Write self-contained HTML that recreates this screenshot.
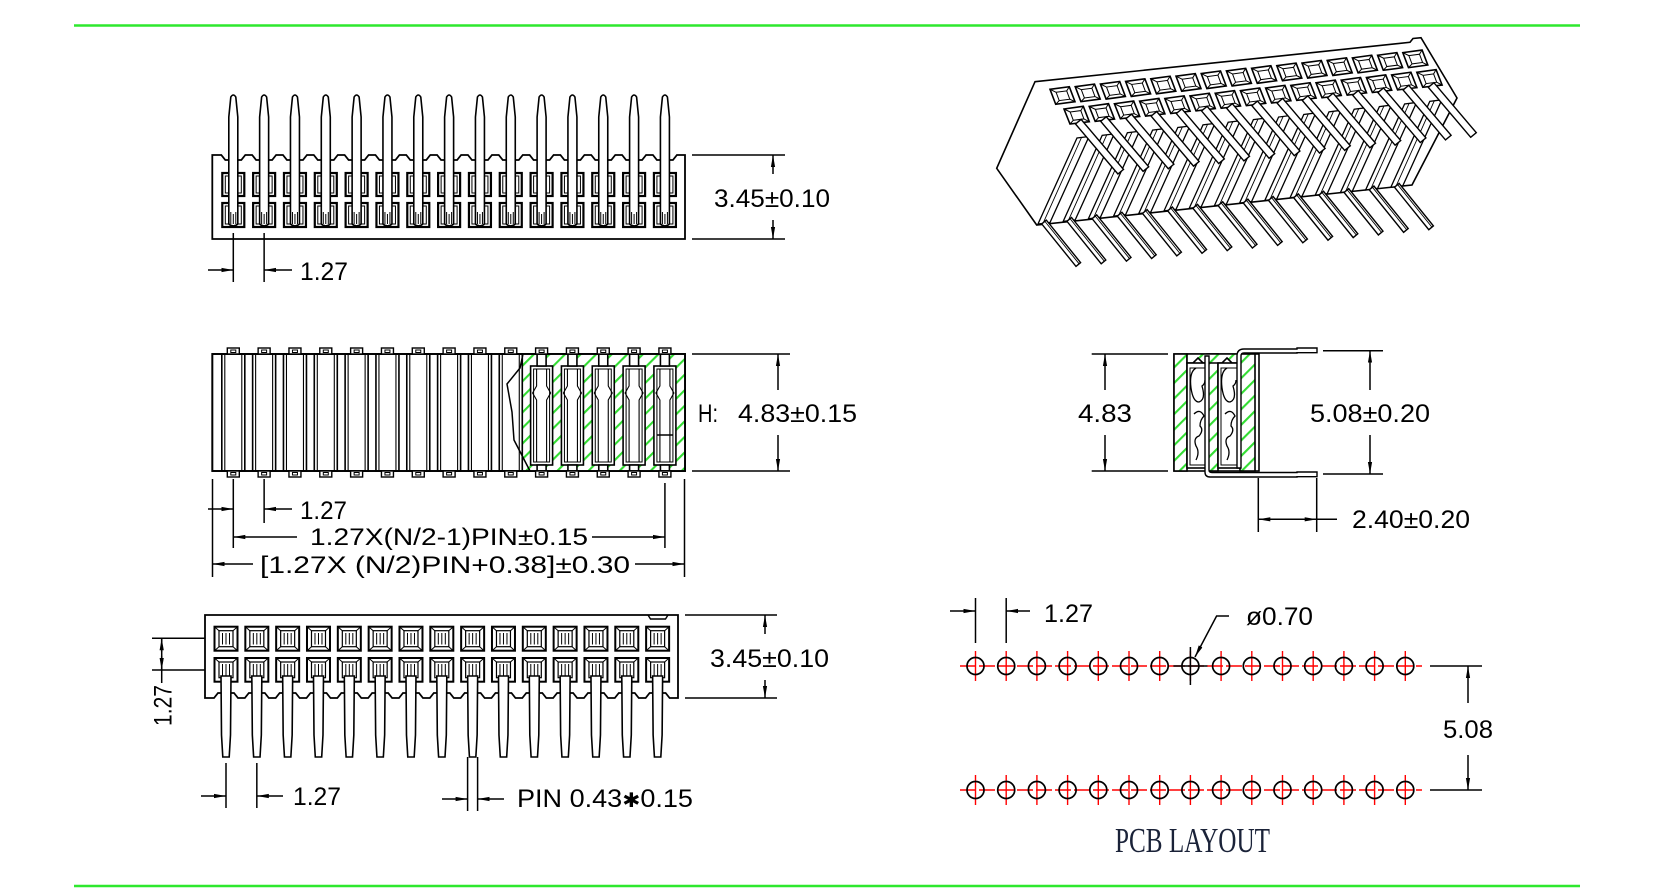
<!DOCTYPE html>
<html><head><meta charset="utf-8"><style>
html,body{margin:0;padding:0;background:#fff;}
svg{display:block;}
text{font-family:"Liberation Sans",Arial,sans-serif;font-size:25px;fill:#000;stroke:none;}
.serif{font-family:"Liberation Serif","Times New Roman",serif;fill:#1a2238;}
</style></head><body>
<svg width="1653" height="894" viewBox="0 0 1653 894" xmlns="http://www.w3.org/2000/svg">
<defs>
<marker id="a" viewBox="0 0 12 6" refX="12" refY="3" markerWidth="12" markerHeight="6" markerUnits="userSpaceOnUse" orient="auto"><path d="M0 0.9L12 3L0 5.1z" fill="#000"/></marker>
<pattern id="h" patternUnits="userSpaceOnUse" width="11" height="11" patternTransform="rotate(45)"><rect width="11" height="11" fill="#fff"/><line x1="1" y1="0" x2="1" y2="11" stroke="#33dd33" stroke-width="2.2"/></pattern>
<g id="tw" stroke="#000" fill="#fff">
<rect x="-11" y="173" width="22" height="23" stroke-width="2.2"/>
<rect x="-8" y="176" width="16" height="17" fill="none" stroke-width="1"/>
<rect x="-11" y="203" width="22" height="24" stroke-width="2.2"/>
<rect x="-8" y="206" width="16" height="18" fill="none" stroke-width="1"/>
</g>
<g id="tp" stroke="#000" fill="#fff" stroke-width="1.6">
<path d="M-2.5 97Q0 93 2.5 97L4.5 117V224Q0 228-4.5 224V117Z"/>
<path d="M-2.5 212V224M2.5 212V224M0 214V224" stroke-width="1"/>
</g>
<g id="mc" stroke="#000" fill="none"><rect x="-11.5" y="354" width="23" height="117" stroke-width="1.6"/><path d="M-8.5 354V471M8.5 354V471" stroke-width="1.1"/></g>
<g id="ms" stroke="#000" fill="#fff" stroke-width="1.4"><rect x="-6" y="348" width="12" height="6"/><rect x="-2.5" y="350" width="5" height="2.5" fill="none" stroke-width="1"/><rect x="-6" y="471" width="12" height="6"/><rect x="-2.5" y="472.5" width="5" height="2.5" fill="none" stroke-width="1"/></g>
<g id="hs" stroke="#000" stroke-width="1.6">
<rect x="-11" y="366" width="22" height="99" fill="#fff"/>
<rect x="-8" y="369" width="16" height="93" fill="none" stroke-width="1"/>
<rect x="-4.5" y="354" width="9" height="12" fill="#fff"/>
<rect x="-4.5" y="465" width="9" height="6" fill="#fff"/>
<path d="M-5 369V386l-4 7 4 7V462M5 369V386l4 7-4 7V462" fill="none" stroke-width="1.1"/>
</g>
<g id="bw" stroke="#000" fill="#fff">
<rect x="-11.5" y="626.7" width="23" height="24" stroke-width="2"/>
<rect x="-7" y="630.7" width="14" height="16" fill="none" stroke-width="1.2"/>
<path d="M-11.5 626.7L-7 630.7M11.5 626.7L7 630.7M-11.5 650.7L-7 646.7M11.5 650.7L7 646.7M-3.5 633V644.5M0 633V644.5M3.5 633V644.5" stroke-width="1"/>
<rect x="-11.5" y="658" width="23" height="23.7" stroke-width="2"/>
<rect x="-7" y="662" width="14" height="15.7" fill="none" stroke-width="1.2"/>
<path d="M-11.5 658L-7 662M11.5 658L7 662M-3.5 664V676M0 664V676M3.5 664V676" stroke-width="1"/>
</g>
<path id="bp" d="M-5 676H5L4.5 735L3.2 757H-3.2L-4.5 735Z" stroke="#000" fill="#fff" stroke-width="1.6"/>
<g id="pr" stroke="#000" fill="#fff" stroke-width="1.3"><polygon points="1038,224 1050,222.5 1089,136.5 1077,138"/><line x1="1043" y1="223.4" x2="1081.5" y2="137.5" stroke-width="0.9"/></g>
<g id="pl" stroke="#000" fill="#fff" stroke-width="1.4"><polygon points="1041.7,223.9 1046.3,220.1 1080.6,262.6 1076,266.4"/><line x1="1044.6" y1="221" x2="1079" y2="263.7" stroke-width="0.9"/></g>
<g id="pw" stroke="#000" fill="#fff">
<polygon points="1050,89.3 1069.3,86.7 1075,101.7 1055.7,104.3" stroke-width="1.6"/>
<polygon points="1056.1,92.3 1066.7,90.9 1069.8,99.2 1059.2,100.6" stroke-width="1"/>
<path d="M1050 89.3L1056.1 92.3M1069.3 86.7L1066.7 90.9M1075 101.7L1069.8 99.2M1055.7 104.3L1059.2 100.6" stroke-width="1"/>
<polygon points="1064,109 1083.3,106.3 1089.3,121.7 1070,124" stroke-width="1.6"/>
<polygon points="1070.2,112 1080.8,110.6 1083.9,118.9 1073.3,120.3" stroke-width="1"/>
<path d="M1064 109L1070.2 112M1083.3 106.3L1080.8 110.6M1089.3 121.7L1083.9 118.9M1070 124L1073.3 120.3" stroke-width="1"/>
</g>
<polygon id="pu" points="1075.5,124 1081.1,119.4 1123.5,169.4 1117.9,174" stroke="#000" fill="#fff" stroke-width="1.4"/>
<g id="pc"><line x1="0" y1="-15" x2="0" y2="15" stroke="#ff0000" stroke-width="1.4"/><circle cx="0" cy="0" r="8.5" fill="none" stroke="#000" stroke-width="1.7"/></g>
</defs>

<rect width="1653" height="894" fill="#fff"/>
<line x1="74" y1="25.5" x2="1580" y2="25.5" stroke="#2ee82e" stroke-width="2.5"/>
<line x1="74" y1="886" x2="1580" y2="886" stroke="#2ee82e" stroke-width="2.5"/>

<!-- TOP VIEW -->
<path d="M212.3 239V155H221.3l4 5h16l4-5h6.83l4 5h16l4-5h6.83l4 5h16l4-5h6.83l4 5h16l4-5h6.83l4 5h16l4-5h6.83l4 5h16l4-5h6.83l4 5h16l4-5h6.83l4 5h16l4-5h6.83l4 5h16l4-5h6.83l4 5h16l4-5h6.83l4 5h16l4-5h6.83l4 5h16l4-5h6.83l4 5h16l4-5h6.83l4 5h16l4-5h6.83l4 5h16l4-5h6.83H685V239Z" fill="#fff" stroke="#000" stroke-width="1.8"/>
<g>
<use href="#tw" x="233.3"/><use href="#tw" x="264.13"/><use href="#tw" x="294.96"/><use href="#tw" x="325.79"/><use href="#tw" x="356.62"/><use href="#tw" x="387.45"/><use href="#tw" x="418.28"/><use href="#tw" x="449.11"/><use href="#tw" x="479.94"/><use href="#tw" x="510.77"/><use href="#tw" x="541.6"/><use href="#tw" x="572.43"/><use href="#tw" x="603.26"/><use href="#tw" x="634.09"/><use href="#tw" x="664.92"/>
<use href="#tp" x="233.3"/><use href="#tp" x="264.13"/><use href="#tp" x="294.96"/><use href="#tp" x="325.79"/><use href="#tp" x="356.62"/><use href="#tp" x="387.45"/><use href="#tp" x="418.28"/><use href="#tp" x="449.11"/><use href="#tp" x="479.94"/><use href="#tp" x="510.77"/><use href="#tp" x="541.6"/><use href="#tp" x="572.43"/><use href="#tp" x="603.26"/><use href="#tp" x="634.09"/><use href="#tp" x="664.92"/>
</g>
<g stroke="#000" stroke-width="1.5" fill="none">
<line x1="233.3" y1="233" x2="233.3" y2="282"/><line x1="264.13" y1="233" x2="264.13" y2="282"/>
<line x1="208" y1="270" x2="233.3" y2="270" marker-end="url(#a)"/>
<line x1="292" y1="270" x2="264.13" y2="270" marker-end="url(#a)"/>
<line x1="692" y1="155" x2="785" y2="155"/><line x1="692" y1="239" x2="785" y2="239"/>
<line x1="773" y1="174" x2="773" y2="155" marker-end="url(#a)"/>
<line x1="773" y1="220" x2="773" y2="239" marker-end="url(#a)"/>
</g>
<text x="300" y="280" textLength="48" lengthAdjust="spacingAndGlyphs">1.27</text>
<text x="714" y="207" textLength="116" lengthAdjust="spacingAndGlyphs">3.45±0.10</text>

<!-- MIDDLE VIEW -->
<rect x="212.3" y="354" width="472.7" height="117" fill="#fff" stroke="#000" stroke-width="1.8"/>
<use href="#mc" x="233.3"/><use href="#mc" x="264.13"/><use href="#mc" x="294.96"/><use href="#mc" x="325.79"/><use href="#mc" x="356.62"/><use href="#mc" x="387.45"/><use href="#mc" x="418.28"/><use href="#mc" x="449.11"/><use href="#mc" x="479.94"/><use href="#mc" x="510.77"/>
<rect x="522.3" y="354" width="162.7" height="117" fill="url(#h)" stroke="#000" stroke-width="1.6"/>
<use href="#hs" x="541.6"/><use href="#hs" x="572.43"/><use href="#hs" x="603.26"/><use href="#hs" x="634.09"/><use href="#hs" x="664.92"/>
<line x1="656.9" y1="435" x2="672.9" y2="435" stroke="#000" stroke-width="1.4"/>
<path d="M523 354L520 368L507 384L512 412L514 440L530 471" fill="none" stroke="#000" stroke-width="1.5"/>
<rect x="212.3" y="354" width="472.7" height="117" fill="none" stroke="#000" stroke-width="1.8"/>
<use href="#ms" x="233.3"/><use href="#ms" x="264.13"/><use href="#ms" x="294.96"/><use href="#ms" x="325.79"/><use href="#ms" x="356.62"/><use href="#ms" x="387.45"/><use href="#ms" x="418.28"/><use href="#ms" x="449.11"/><use href="#ms" x="479.94"/><use href="#ms" x="510.77"/><use href="#ms" x="541.6"/><use href="#ms" x="572.43"/><use href="#ms" x="603.26"/><use href="#ms" x="634.09"/><use href="#ms" x="664.92"/>
<g stroke="#000" stroke-width="1.5" fill="none">
<line x1="692" y1="354" x2="790" y2="354"/><line x1="692" y1="471" x2="790" y2="471"/>
<line x1="778" y1="390" x2="778" y2="354" marker-end="url(#a)"/>
<line x1="778" y1="435" x2="778" y2="471" marker-end="url(#a)"/>
<line x1="212.5" y1="479" x2="212.5" y2="577"/>
<line x1="233.3" y1="479" x2="233.3" y2="548"/>
<line x1="264.13" y1="479" x2="264.13" y2="523"/>
<line x1="664.92" y1="483" x2="664.92" y2="548"/>
<line x1="684.5" y1="479" x2="684.5" y2="577"/>
<line x1="208" y1="509" x2="233.3" y2="509" marker-end="url(#a)"/>
<line x1="292" y1="509" x2="264.13" y2="509" marker-end="url(#a)"/>
<line x1="297" y1="537" x2="233.3" y2="537" marker-end="url(#a)"/>
<line x1="592" y1="537" x2="664.92" y2="537" marker-end="url(#a)"/>
<line x1="253" y1="564" x2="212.5" y2="564" marker-end="url(#a)"/>
<line x1="635" y1="564" x2="684.5" y2="564" marker-end="url(#a)"/>
</g>
<text x="698" y="422" textLength="20" lengthAdjust="spacingAndGlyphs">H:</text>
<text x="738" y="422" textLength="119" lengthAdjust="spacingAndGlyphs">4.83±0.15</text>
<text x="300" y="519" textLength="47" lengthAdjust="spacingAndGlyphs">1.27</text>
<text x="310" y="545" style="font-size:24px" textLength="278" lengthAdjust="spacingAndGlyphs">1.27X(N/2-1)PIN±0.15</text>
<text x="260" y="573" style="font-size:24px" textLength="370" lengthAdjust="spacingAndGlyphs">[1.27X  (N/2)PIN+0.38]±0.30</text>

<!-- BOTTOM VIEW -->
<path d="M205 615V698H214l4-5h16l4 5h6.83l4-5h16l4 5h6.83l4-5h16l4 5h6.83l4-5h16l4 5h6.83l4-5h16l4 5h6.83l4-5h16l4 5h6.83l4-5h16l4 5h6.83l4-5h16l4 5h6.83l4-5h16l4 5h6.83l4-5h16l4 5h6.83l4-5h16l4 5h6.83l4-5h16l4 5h6.83l4-5h16l4 5h6.83l4-5h16l4 5h6.83l4-5h16l4 5H678V615Z" fill="#fff" stroke="#000" stroke-width="1.8"/>
<path d="M648 615L650.5 619H665.5L668 615" fill="none" stroke="#000" stroke-width="1.4"/>
<use href="#bw" x="226"/><use href="#bw" x="256.83"/><use href="#bw" x="287.66"/><use href="#bw" x="318.49"/><use href="#bw" x="349.32"/><use href="#bw" x="380.15"/><use href="#bw" x="410.98"/><use href="#bw" x="441.81"/><use href="#bw" x="472.64"/><use href="#bw" x="503.47"/><use href="#bw" x="534.3"/><use href="#bw" x="565.13"/><use href="#bw" x="595.96"/><use href="#bw" x="626.79"/><use href="#bw" x="657.62"/>
<use href="#bp" x="226"/><use href="#bp" x="256.83"/><use href="#bp" x="287.66"/><use href="#bp" x="318.49"/><use href="#bp" x="349.32"/><use href="#bp" x="380.15"/><use href="#bp" x="410.98"/><use href="#bp" x="441.81"/><use href="#bp" x="472.64"/><use href="#bp" x="503.47"/><use href="#bp" x="534.3"/><use href="#bp" x="565.13"/><use href="#bp" x="595.96"/><use href="#bp" x="626.79"/><use href="#bp" x="657.62"/>
<g stroke="#000" stroke-width="1.5" fill="none">
<line x1="685" y1="615" x2="777" y2="615"/><line x1="685" y1="698" x2="777" y2="698"/>
<line x1="765" y1="634" x2="765" y2="615" marker-end="url(#a)"/>
<line x1="765" y1="680" x2="765" y2="698" marker-end="url(#a)"/>
<line x1="152" y1="638.3" x2="205" y2="638.3"/><line x1="152" y1="670" x2="205" y2="670"/>
<line x1="161.7" y1="638.3" x2="161.7" y2="683"/>
<line x1="161.7" y1="652" x2="161.7" y2="638.3" marker-end="url(#a)"/>
<line x1="161.7" y1="656" x2="161.7" y2="670" marker-end="url(#a)"/>
<line x1="226" y1="763" x2="226" y2="808"/><line x1="256.83" y1="763" x2="256.83" y2="808"/>
<line x1="201" y1="796" x2="226" y2="796" marker-end="url(#a)"/>
<line x1="283" y1="796" x2="256.83" y2="796" marker-end="url(#a)"/>
<line x1="467.6" y1="757" x2="467.6" y2="811"/><line x1="477.6" y1="757" x2="477.6" y2="811"/>
<line x1="442" y1="799" x2="467.6" y2="799" marker-end="url(#a)"/>
<line x1="504" y1="799" x2="477.6" y2="799" marker-end="url(#a)"/>
</g>
<text x="710" y="667" textLength="119" lengthAdjust="spacingAndGlyphs">3.45±0.10</text>
<text transform="translate(171.7,726) rotate(-90)" x="0" y="0" textLength="41" lengthAdjust="spacingAndGlyphs">1.27</text>
<text x="293" y="805" textLength="48" lengthAdjust="spacingAndGlyphs">1.27</text>
<text x="517" y="807" textLength="176" lengthAdjust="spacingAndGlyphs">PIN  0.43<tspan style="font-family:'DejaVu Sans',sans-serif;font-size:20px">✱</tspan>0.15</text>

<!-- PERSPECTIVE -->
<polygon points="1035,81.7 1410,42.3 1413,38.5 1421,37.7 1457,98 1412,185 1036.7,225 996.7,168.3" fill="#fff" stroke="#000" stroke-width="1.6"/>
<g>
<use href="#pr" transform="translate(352.8,-36.68)"/><use href="#pr" transform="translate(327.6,-34.06)"/><use href="#pr" transform="translate(302.4,-31.44)"/><use href="#pr" transform="translate(277.2,-28.82)"/><use href="#pr" transform="translate(252,-26.2)"/><use href="#pr" transform="translate(226.8,-23.58)"/><use href="#pr" transform="translate(201.6,-20.96)"/><use href="#pr" transform="translate(176.4,-18.34)"/><use href="#pr" transform="translate(151.2,-15.72)"/><use href="#pr" transform="translate(126,-13.1)"/><use href="#pr" transform="translate(100.8,-10.48)"/><use href="#pr" transform="translate(75.6,-7.86)"/><use href="#pr" transform="translate(50.4,-5.24)"/><use href="#pr" transform="translate(25.2,-2.62)"/><use href="#pr"/>
</g>
<g>
<use href="#pl" transform="translate(352.8,-36.68)"/><use href="#pl" transform="translate(327.6,-34.06)"/><use href="#pl" transform="translate(302.4,-31.44)"/><use href="#pl" transform="translate(277.2,-28.82)"/><use href="#pl" transform="translate(252,-26.2)"/><use href="#pl" transform="translate(226.8,-23.58)"/><use href="#pl" transform="translate(201.6,-20.96)"/><use href="#pl" transform="translate(176.4,-18.34)"/><use href="#pl" transform="translate(151.2,-15.72)"/><use href="#pl" transform="translate(126,-13.1)"/><use href="#pl" transform="translate(100.8,-10.48)"/><use href="#pl" transform="translate(75.6,-7.86)"/><use href="#pl" transform="translate(50.4,-5.24)"/><use href="#pl" transform="translate(25.2,-2.62)"/><use href="#pl"/>
</g>
<g>
<use href="#pw"/><use href="#pw" transform="translate(25.2,-2.62)"/><use href="#pw" transform="translate(50.4,-5.24)"/><use href="#pw" transform="translate(75.6,-7.86)"/><use href="#pw" transform="translate(100.8,-10.48)"/><use href="#pw" transform="translate(126,-13.1)"/><use href="#pw" transform="translate(151.2,-15.72)"/><use href="#pw" transform="translate(176.4,-18.34)"/><use href="#pw" transform="translate(201.6,-20.96)"/><use href="#pw" transform="translate(226.8,-23.58)"/><use href="#pw" transform="translate(252,-26.2)"/><use href="#pw" transform="translate(277.2,-28.82)"/><use href="#pw" transform="translate(302.4,-31.44)"/><use href="#pw" transform="translate(327.6,-34.06)"/><use href="#pw" transform="translate(352.8,-36.68)"/>
</g>
<g>
<use href="#pu" transform="translate(352.8,-36.68)"/><use href="#pu" transform="translate(327.6,-34.06)"/><use href="#pu" transform="translate(302.4,-31.44)"/><use href="#pu" transform="translate(277.2,-28.82)"/><use href="#pu" transform="translate(252,-26.2)"/><use href="#pu" transform="translate(226.8,-23.58)"/><use href="#pu" transform="translate(201.6,-20.96)"/><use href="#pu" transform="translate(176.4,-18.34)"/><use href="#pu" transform="translate(151.2,-15.72)"/><use href="#pu" transform="translate(126,-13.1)"/><use href="#pu" transform="translate(100.8,-10.48)"/><use href="#pu" transform="translate(75.6,-7.86)"/><use href="#pu" transform="translate(50.4,-5.24)"/><use href="#pu" transform="translate(25.2,-2.62)"/><use href="#pu"/>
</g>

<!-- SIDE SECTION -->
<g stroke="#000" stroke-width="1.6">
<rect x="1174" y="354" width="85" height="117" fill="#fff"/>
<rect x="1174" y="354" width="13" height="117" fill="url(#h)"/>
<rect x="1207" y="354" width="11" height="117" fill="url(#h)"/>
<rect x="1240" y="354" width="15" height="117" fill="url(#h)"/>
<path d="M1187 354H1240V363H1232L1227 358L1222 363H1203L1198 358L1193 363H1187Z" fill="url(#h)"/>
<rect x="1187" y="363" width="20" height="105" fill="#fff"/>
<rect x="1218" y="363" width="22" height="105" fill="#fff"/>
<g fill="none" stroke-width="1.3">
<path d="M1190 368H1205V465H1190Z" stroke-width="1"/>
<path d="M1221 368H1237V465H1221Z" stroke-width="1"/>
<path d="M1196 368Q1189 372 1191 388Q1193 402 1199 402Q1205 400 1203 390L1202 386Q1205 384 1205 380"/>
<path d="M1194 414Q1200 408 1204 416Q1200 420 1200 426Q1204 430 1199 436Q1193 438 1196 446Q1200 452 1196 460"/>
<path d="M1227 368Q1220 372 1222 388Q1224 402 1230 402Q1236 400 1234 390L1233 386Q1236 384 1236 380"/>
<path d="M1225 414Q1231 408 1235 416Q1231 420 1231 426Q1235 430 1230 436Q1224 438 1227 446Q1231 452 1227 460"/>
</g>
<path d="M1237 468V356Q1237 349 1244 349H1297V348H1317V352.7H1297V353H1244Q1241 353 1241 356V468Z" fill="#fff" stroke-width="1.4"/>
<path d="M1205 356V472Q1205 477 1210 477H1297V476.7H1317V472H1297V472.5H1212Q1209 472.5 1209 470V356Z" fill="#fff" stroke-width="1.4"/>
</g>
<g stroke="#000" stroke-width="1.5" fill="none">
<line x1="1091.7" y1="354" x2="1168" y2="354"/><line x1="1091.7" y1="471" x2="1168" y2="471"/>
<line x1="1105" y1="390" x2="1105" y2="354" marker-end="url(#a)"/>
<line x1="1105" y1="435" x2="1105" y2="471" marker-end="url(#a)"/>
<line x1="1323" y1="350.7" x2="1383" y2="350.7"/><line x1="1323" y1="474" x2="1383" y2="474"/>
<line x1="1370" y1="390" x2="1370" y2="350.7" marker-end="url(#a)"/>
<line x1="1370" y1="435" x2="1370" y2="474" marker-end="url(#a)"/>
<line x1="1258.3" y1="478" x2="1258.3" y2="532"/><line x1="1316.7" y1="478" x2="1316.7" y2="532"/>
<line x1="1287" y1="519.3" x2="1258.3" y2="519.3" marker-end="url(#a)"/>
<line x1="1287" y1="519.3" x2="1316.7" y2="519.3" marker-end="url(#a)"/>
<line x1="1316.7" y1="519.3" x2="1337" y2="519.3"/>
</g>
<text x="1078" y="422" textLength="54" lengthAdjust="spacingAndGlyphs">4.83</text>
<text x="1310" y="422" textLength="120" lengthAdjust="spacingAndGlyphs">5.08±0.20</text>
<text x="1352" y="528" textLength="118" lengthAdjust="spacingAndGlyphs">2.40±0.20</text>

<!-- PCB LAYOUT -->
<line x1="960" y1="666" x2="1422" y2="666" stroke="#ff0000" stroke-width="1.4" stroke-dasharray="16 3"/>
<line x1="960" y1="790" x2="1422" y2="790" stroke="#ff0000" stroke-width="1.4" stroke-dasharray="16 3"/>
<g transform="translate(0,666)">
<use href="#pc" x="975.5"/><use href="#pc" x="1006.2"/><use href="#pc" x="1036.9"/><use href="#pc" x="1067.6"/><use href="#pc" x="1098.3"/><use href="#pc" x="1129"/><use href="#pc" x="1159.7"/><use href="#pc" x="1190.4"/><use href="#pc" x="1221.1"/><use href="#pc" x="1251.8"/><use href="#pc" x="1282.5"/><use href="#pc" x="1313.2"/><use href="#pc" x="1343.9"/><use href="#pc" x="1374.6"/><use href="#pc" x="1405.3"/>
</g>
<g transform="translate(0,790)">
<use href="#pc" x="975.5"/><use href="#pc" x="1006.2"/><use href="#pc" x="1036.9"/><use href="#pc" x="1067.6"/><use href="#pc" x="1098.3"/><use href="#pc" x="1129"/><use href="#pc" x="1159.7"/><use href="#pc" x="1190.4"/><use href="#pc" x="1221.1"/><use href="#pc" x="1251.8"/><use href="#pc" x="1282.5"/><use href="#pc" x="1313.2"/><use href="#pc" x="1343.9"/><use href="#pc" x="1374.6"/><use href="#pc" x="1405.3"/>
</g>
<g stroke="#000" stroke-width="1.5" fill="none">
<line x1="1173.4" y1="666" x2="1207.4" y2="666"/>
<line x1="1190.4" y1="647" x2="1190.4" y2="685"/>
<polyline points="1229,616 1216.6,616 1195,657" marker-end="url(#a)"/>
<line x1="975.5" y1="598" x2="975.5" y2="643"/><line x1="1006.2" y1="598" x2="1006.2" y2="643"/>
<line x1="950" y1="611" x2="975.5" y2="611" marker-end="url(#a)"/>
<line x1="1030" y1="611" x2="1006.2" y2="611" marker-end="url(#a)"/>
<line x1="1430" y1="666" x2="1482" y2="666"/><line x1="1430" y1="790" x2="1482" y2="790"/>
<line x1="1468" y1="703" x2="1468" y2="666" marker-end="url(#a)"/>
<line x1="1468" y1="755" x2="1468" y2="790" marker-end="url(#a)"/>
</g>
<text x="1044" y="622" textLength="49" lengthAdjust="spacingAndGlyphs">1.27</text>
<text x="1246" y="625" textLength="67" lengthAdjust="spacingAndGlyphs">ø0.70</text>
<text x="1443" y="738" textLength="50" lengthAdjust="spacingAndGlyphs">5.08</text>
<text class="serif" x="1115" y="852" style="font-size:35px" textLength="155" lengthAdjust="spacingAndGlyphs">PCB  LAYOUT</text>
</svg>
</body></html>
